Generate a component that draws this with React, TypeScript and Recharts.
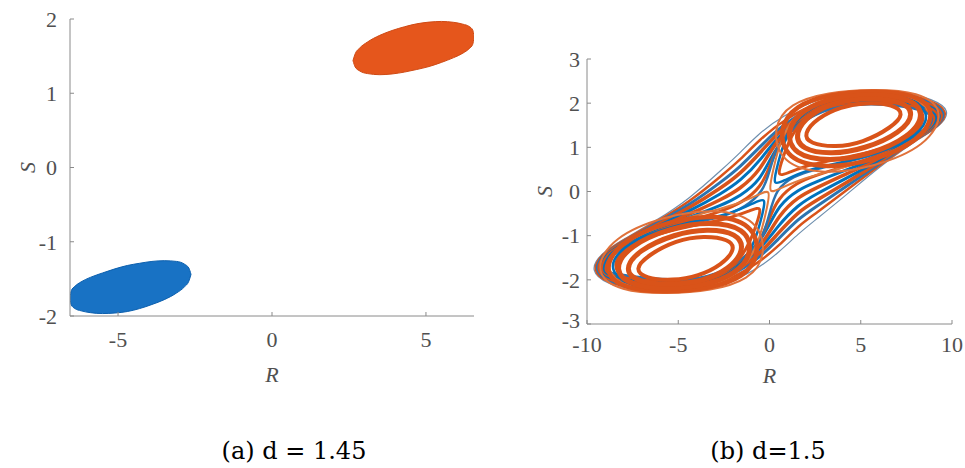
import React from "react";
import { ComposedChart, LineChart, Line, Area, XAxis, YAxis, Label } from "recharts";

const serif = "'Liberation Serif', 'Times New Roman', serif";
const boxGray = "#8a8a8a";
const tickGray = "#505050";
const blue = "#0072BD";
const orange = "#D95319";

// ---------- (a) d = 1.45 ----------
const blueR = [-6.56, -6.52, -6.4, -6.2, -5.9, -5.5, -5.1, -4.7, -4.3, -3.9, -3.5, -3.1, -2.85, -2.7, -2.63];
const blueLow = [-1.76, -1.85, -1.9, -1.93, -1.955, -1.967, -1.96, -1.94, -1.9, -1.845, -1.78, -1.69, -1.61, -1.53, -1.44];
const blueHigh = [-1.76, -1.66, -1.6, -1.54, -1.48, -1.42, -1.365, -1.32, -1.29, -1.265, -1.255, -1.265, -1.3, -1.355, -1.44];

const orangeR = [2.63, 2.7, 2.85, 3.1, 3.5, 3.9, 4.3, 4.7, 5.1, 5.5, 5.9, 6.2, 6.4, 6.52, 6.56];
const orangeLow = [1.44, 1.355, 1.3, 1.265, 1.25, 1.26, 1.285, 1.32, 1.36, 1.415, 1.48, 1.54, 1.6, 1.66, 1.76];
const orangeHigh = [1.44, 1.53, 1.61, 1.69, 1.78, 1.845, 1.895, 1.935, 1.958, 1.967, 1.955, 1.93, 1.9, 1.85, 1.76];

const ticksA_R = [-5, 0, 5];
const ticksA_S = [-2, -1, 0, 1, 2];

// ---------- (b) d = 1.5 ----------
type P = [number, number];
// orbits that wander over both scrolls, outermost first
const scroll0: P[] = [[-9.85,-1.8],[-9.3,-1.42],[-8.0,-1.08],[-6.2,-0.66],[-4.4,-0.17],[-2.6,0.5],[-1.6,0.88],[-0.7,1.27],[0.7,1.72],[2.9,2.14],[4.75,2.29],[7.5,2.24],[8.9,2.1],[9.95,1.84],[9.4,1.48],[7.8,1.1],[6.0,0.55],[4.2,-0.08],[2.5,-0.65],[1.6,-0.95],[0.5,-1.38],[-0.7,-1.78],[-2.9,-2.18],[-4.75,-2.29],[-7.5,-2.24],[-8.9,-2.1]];
const scroll1: P[] = [[-9.75,-1.8],[-9.2,-1.41],[-8.0,-1.11],[-6.2,-0.69],[-4.4,-0.24],[-2.6,0.365],[-1.6,0.72],[-0.6,1.15],[0.8,1.64],[2.9,2.08],[4.75,2.23],[7.5,2.2],[8.85,2.065],[9.84,1.82],[9.3,1.465],[7.8,1.13],[6.0,0.585],[4.2,0.02],[2.5,-0.51],[1.6,-0.77],[0.6,-1.2],[-0.8,-1.69],[-2.9,-2.13],[-4.75,-2.25],[-7.45,-2.2],[-8.85,-2.07]];
const scroll2: P[] = [[-9.65,-1.8],[-9.1,-1.4],[-8.0,-1.14],[-6.2,-0.725],[-4.4,-0.31],[-2.6,0.23],[-1.6,0.56],[-0.5,1.02],[0.8,1.56],[2.9,2.02],[4.75,2.18],[7.45,2.17],[8.8,2.03],[9.73,1.8],[9.2,1.45],[7.8,1.16],[6.0,0.62],[4.2,0.11],[2.5,-0.36],[1.6,-0.61],[0.5,-1.07],[-0.8,-1.61],[-2.9,-2.07],[-4.75,-2.2],[-7.4,-2.17],[-8.8,-2.04]];
const scroll3: P[] = [[-9.55,-1.8],[-9.0,-1.39],[-8.0,-1.16],[-6.2,-0.76],[-4.4,-0.38],[-2.6,0.095],[-1.6,0.4],[-0.45,0.9],[0.8,1.5],[2.9,1.98],[4.75,2.14],[7.45,2.13],[8.75,1.995],[9.62,1.78],[9.1,1.435],[7.8,1.18],[6.0,0.655],[4.2,0.2],[2.5,-0.22],[1.6,-0.45],[0.45,-0.95],[-0.8,-1.55],[-2.9,-2.03],[-4.75,-2.16],[-7.35,-2.13],[-8.75,-2.01]];
const scroll4: P[] = [[-9.45,-1.8],[-8.9,-1.38],[-8.0,-1.19],[-6.2,-0.79],[-4.4,-0.45],[-2.6,-0.04],[-1.6,0.24],[-0.45,0.72],[0.6,1.35],[2.9,1.95],[4.75,2.1],[7.4,2.1],[8.7,1.96],[9.51,1.76],[9.0,1.42],[7.8,1.21],[6.0,0.69],[4.2,0.3],[2.5,-0.07],[1.6,-0.29],[0.45,-0.77],[-0.6,-1.4],[-2.9,-2.0],[-4.75,-2.12],[-7.3,-2.1],[-8.7,-1.98]];
const scroll5: P[] = [[-9.35,-1.8],[-8.8,-1.37],[-8.0,-1.22],[-6.2,-0.82],[-4.4,-0.52],[-2.6,-0.175],[-1.6,0.06],[-0.5,0.48],[0.3,1.12],[1.5,1.58],[2.9,1.92],[4.75,2.07],[7.4,2.06],[8.65,1.925],[9.4,1.74],[8.9,1.405],[7.8,1.24],[6.0,0.725],[4.2,0.4],[2.5,0.07],[1.6,-0.11],[0.5,-0.53],[-0.3,-1.17],[-1.5,-1.63],[-2.9,-1.97],[-4.75,-2.09],[-7.25,-2.06],[-8.65,-1.95]];
const scroll6: P[] = [[-9.25,-1.81],[-8.7,-1.36],[-8.0,-1.245],[-6.2,-0.855],[-4.4,-0.59],[-2.6,-0.31],[-1.6,-0.1],[-0.5,0.25],[0.15,0.85],[1.2,1.45],[2.9,1.9],[4.75,2.04],[7.35,2.02],[8.6,1.89],[9.29,1.72],[8.8,1.39],[7.8,1.26],[6.0,0.76],[4.2,0.49],[2.5,0.21],[1.6,0.05],[0.5,-0.3],[-0.15,-0.9],[-1.2,-1.5],[-2.9,-1.95],[-4.75,-2.06],[-7.2,-2.02],[-8.6,-1.92]];
const scroll7: P[] = [[-9.15,-1.81],[-8.6,-1.35],[-8.0,-1.27],[-6.2,-0.89],[-4.4,-0.66],[-2.6,-0.445],[-1.5,-0.25],[-0.45,0.1],[0.05,0.6],[0.5,1.1],[1.5,1.5],[2.9,1.88],[4.75,2.02],[7.35,1.99],[8.55,1.855],[9.18,1.7],[8.7,1.375],[7.8,1.29],[6.0,0.795],[4.2,0.58],[2.5,0.36],[1.5,0.2],[0.45,-0.15],[-0.05,-0.65],[-0.5,-1.15],[-1.5,-1.55],[-2.9,-1.93],[-4.75,-2.04],[-7.15,-1.99],[-8.55,-1.89]];
const scroll8: P[] = [[-9.05,-1.82],[-8.5,-1.34],[-8.0,-1.3],[-6.2,-0.92],[-4.4,-0.73],[-2.6,-0.58],[-1.3,-0.35],[-0.35,0.0],[0.0,0.45],[0.35,1.0],[1.3,1.45],[2.9,1.85],[4.75,2.0],[7.3,1.95],[8.5,1.82],[9.07,1.68],[8.6,1.36],[7.8,1.32],[6.0,0.83],[4.2,0.68],[2.5,0.5],[1.3,0.35],[0.35,0.05],[0.0,-0.5],[-0.35,-1.05],[-1.3,-1.5],[-2.9,-1.9],[-4.75,-2.02],[-7.1,-1.95],[-8.5,-1.86]];

// orbits that leave one scroll, touch the saddle at the origin and come back
const lowHomo0: P[] = [[-9.0,-1.82],[-7.7,-2.22],[-5.4,-2.27],[-3.0,-2.14],[-1.3,-1.75],[-0.5,-1.05],[-0.1,-0.3],[0.05,0.05],[-0.5,-0.05],[-1.8,-0.3],[-4.2,-0.55],[-7.0,-0.92],[-8.6,-1.35]];
const lowHomo1: P[] = [[-8.8,-1.82],[-7.5,-2.18],[-5.4,-2.22],[-3.1,-2.08],[-1.5,-1.7],[-0.75,-1.1],[-0.35,-0.45],[-0.2,-0.15],[-0.7,-0.22],[-2.0,-0.5],[-4.3,-0.68],[-7.0,-1.0],[-8.4,-1.38]];
const lowHomo2: P[] = [[-8.6,-1.82],[-7.3,-2.14],[-5.3,-2.18],[-3.2,-2.03],[-1.7,-1.62],[-1.0,-1.1],[-0.6,-0.6],[-0.45,-0.35],[-0.9,-0.4],[-2.2,-0.62],[-4.4,-0.78],[-7.0,-1.05],[-8.3,-1.4]];
const upHomo0: P[] = [[9.0,1.82],[7.7,2.22],[5.4,2.27],[3.0,2.14],[1.3,1.75],[0.5,1.05],[0.1,0.3],[-0.05,-0.05],[0.5,0.05],[1.8,0.3],[4.2,0.55],[7.0,0.92],[8.6,1.35]];
const upHomo1: P[] = [[8.8,1.82],[7.5,2.18],[5.4,2.22],[3.1,2.08],[1.5,1.7],[0.75,1.1],[0.35,0.45],[0.2,0.15],[0.7,0.22],[2.0,0.5],[4.3,0.68],[7.0,1.0],[8.4,1.38]];
const upHomo2: P[] = [[8.6,1.82],[7.3,2.14],[5.3,2.18],[3.2,2.03],[1.7,1.62],[1.0,1.1],[0.6,0.6],[0.45,0.35],[0.9,0.4],[2.2,0.62],[4.4,0.78],[7.0,1.05],[8.3,1.4]];

// orbits that stay around one scroll, innermost first
const lowRing0: P[] = [[-7.4,-1.76],[-6.8,-1.97],[-5.3,-2.02],[-3.9,-1.92],[-2.6,-1.66],[-1.85,-1.3],[-2.2,-1.08],[-3.6,-1.0],[-5.1,-1.1],[-6.7,-1.45]];
const lowRing1: P[] = [[-8.0,-1.78],[-7.2,-2.06],[-5.4,-2.12],[-3.7,-2.04],[-2.2,-1.76],[-1.35,-1.32],[-1.75,-0.94],[-3.4,-0.84],[-5.2,-0.96],[-7.2,-1.33]];
const lowRing2: P[] = [[-8.6,-1.8],[-7.5,-2.15],[-5.5,-2.21],[-3.5,-2.13],[-1.8,-1.86],[-0.9,-1.38],[-1.3,-0.82],[-3.3,-0.68],[-5.4,-0.82],[-7.7,-1.22]];
const lowRing3: P[] = [[-9.2,-1.82],[-7.9,-2.22],[-5.6,-2.28],[-3.3,-2.2],[-1.4,-1.95],[-0.5,-1.42],[-0.9,-0.72],[-3.1,-0.52],[-5.6,-0.68],[-8.2,-1.12]];
const lowRing4: P[] = [[-9.7,-1.82],[-8.2,-2.27],[-5.6,-2.32],[-3.2,-2.25],[-1.1,-2.0],[-0.15,-1.45],[-0.6,-0.62],[-3.0,-0.38],[-5.7,-0.55],[-8.6,-1.02]];

const upRing0: P[] = [[7.4,1.76],[6.8,1.97],[5.3,2.02],[3.9,1.92],[2.6,1.66],[1.85,1.3],[2.2,1.08],[3.6,1.0],[5.1,1.1],[6.7,1.45]];
const upRing1: P[] = [[8.0,1.78],[7.2,2.06],[5.4,2.12],[3.7,2.04],[2.2,1.76],[1.35,1.32],[1.75,0.94],[3.4,0.84],[5.2,0.96],[7.2,1.33]];
const upRing2: P[] = [[8.6,1.8],[7.5,2.15],[5.5,2.21],[3.5,2.13],[1.8,1.86],[0.9,1.38],[1.3,0.82],[3.3,0.68],[5.4,0.82],[7.7,1.22]];
const upRing3: P[] = [[9.2,1.82],[7.9,2.22],[5.6,2.28],[3.3,2.2],[1.4,1.95],[0.5,1.42],[0.9,0.72],[3.1,0.52],[5.6,0.68],[8.2,1.12]];
const upRing4: P[] = [[9.7,1.82],[8.2,2.27],[5.6,2.32],[3.2,2.25],[1.1,2.0],[0.15,1.45],[0.6,0.62],[3.0,0.38],[5.7,0.55],[8.6,1.02]];

const ticksB_R = [-10, -5, 0, 5, 10];
const ticksB_S = [-3, -2, -1, 0, 1, 2, 3];

const toPoints = (p: P[]) => p.map(([x, y]) => ({ x, y }));

const strands = [
  { name: "s0", pts: scroll0, color: "#6f8fae", w: 1.2 },
  { name: "s1", pts: scroll1, color: orange, w: 2.5 },
  { name: "s2", pts: scroll2, color: "#2c74b0", w: 3 },
  { name: "s3", pts: scroll3, color: orange, w: 3.5 },
  { name: "s4", pts: scroll4, color: blue, w: 3 },
  { name: "s5", pts: scroll5, color: orange, w: 3.5 },
  { name: "s6", pts: scroll6, color: blue, w: 3 },
  { name: "s7", pts: scroll7, color: orange, w: 3 },
  { name: "s8", pts: scroll8, color: "#2c74b0", w: 2.5 },
  { name: "lh2", pts: lowHomo2, color: orange, w: 3 },
  { name: "uh2", pts: upHomo2, color: orange, w: 3 },
  { name: "lh1", pts: lowHomo1, color: blue, w: 2.5 },
  { name: "uh1", pts: upHomo1, color: blue, w: 2.5 },
  { name: "lh0", pts: lowHomo0, color: "#e07a3e", w: 2 },
  { name: "uh0", pts: upHomo0, color: "#e07a3e", w: 2 },
  { name: "lr4", pts: lowRing4, color: "#e0713a", w: 2 },
  { name: "ur4", pts: upRing4, color: "#e0713a", w: 2 },
  { name: "lr3", pts: lowRing3, color: orange, w: 4.5 },
  { name: "ur3", pts: upRing3, color: orange, w: 4.5 },
  { name: "lr2", pts: lowRing2, color: orange, w: 5 },
  { name: "ur2", pts: upRing2, color: orange, w: 5 },
  { name: "lr1", pts: lowRing1, color: orange, w: 5 },
  { name: "ur1", pts: upRing1, color: orange, w: 5 },
  { name: "lr0", pts: lowRing0, color: orange, w: 4 },
  { name: "ur0", pts: upRing0, color: orange, w: 4 },
];

const tickStyle = { fontFamily: serif, fontSize: 22, fill: tickGray };
const labelStyle = { fontFamily: serif, fontSize: 22, fill: tickGray, fontStyle: "italic" as const };

// y tick of panel (b): the lowest label sits a little higher so it clears the -10 below it
const YTickB = (props: any) => {
  const { x, y, payload } = props;
  const lift = payload.value === -3 ? -4 : 0;
  return (
    <text x={x} y={y + lift} dy="0.355em" textAnchor="end" fontFamily={serif} fontSize={22} fill={tickGray}>
      {payload.value}
    </text>
  );
};

const PanelA = () => {
  const rows = [
    ...blueR.map((r, i) => ({ r, blue: [blueLow[i], blueHigh[i]] })),
    ...orangeR.map((r, i) => ({ r, orange: [orangeLow[i], orangeHigh[i]] })),
  ];
  return (
    <ComposedChart width={480} height={400} data={rows} margin={{ top: 19, right: 6, left: 0, bottom: 0 }}>
      <XAxis dataKey="r" type="number" domain={[-6.56, 6.56]} ticks={ticksA_R} allowDataOverflow
        height={84} stroke={boxGray} tickSize={-4} tickMargin={19} tick={tickStyle}>
        <Label value="R" position="insideTop" offset={50} style={labelStyle} />
      </XAxis>
      <XAxis xAxisId="top" orientation="top" dataKey="r" type="number" domain={[-6.56, 6.56]} ticks={ticksA_R}
        allowDataOverflow height={0} stroke={boxGray} tickSize={-4} tickFormatter={() => ""} />
      <YAxis type="number" domain={[-2, 2]} ticks={ticksA_S} width={70} stroke={boxGray}
        tickSize={-4} tickMargin={17} tick={tickStyle}>
        <Label value="S" angle={-90} position="center" dx={-8} style={labelStyle} />
      </YAxis>
      <YAxis yAxisId="right" orientation="right" type="number" domain={[-2, 2]} ticks={ticksA_S} width={0}
        stroke={boxGray} tickSize={-4} tickFormatter={() => ""} />
      <Area dataKey="blue" type="monotone" fill="#1872c4" fillOpacity={1} stroke="#0b5fae" strokeWidth={1}
        isAnimationActive={false} connectNulls={false} dot={false} activeDot={false} />
      <Area dataKey="orange" type="monotone" fill="#e5561c" fillOpacity={1} stroke="#cf4a14" strokeWidth={1}
        isAnimationActive={false} connectNulls={false} dot={false} activeDot={false} />
    </ComposedChart>
  );
};

const PanelB = () => (
  <LineChart width={475} height={400} margin={{ top: 59, right: 13, left: 0, bottom: 0 }}>
    <XAxis dataKey="x" type="number" domain={[-10, 10]} ticks={ticksB_R} allowDataOverflow
      height={76} stroke={boxGray} tickSize={-4} tickMargin={16} tick={tickStyle}>
      <Label value="R" position="insideTop" offset={43} style={labelStyle} />
    </XAxis>
    <XAxis xAxisId="top" orientation="top" dataKey="x" type="number" domain={[-10, 10]} ticks={ticksB_R}
      allowDataOverflow height={0} stroke={boxGray} tickSize={-4} tickFormatter={() => ""} />
    <YAxis type="number" domain={[-3, 3]} ticks={ticksB_S} width={97} stroke={boxGray}
      tickSize={-4} tickMargin={11} tick={<YTickB />}>
      <Label value="S" angle={-90} position="center" dx={6} style={labelStyle} />
    </YAxis>
    <YAxis yAxisId="right" orientation="right" type="number" domain={[-3, 3]} ticks={ticksB_S} width={0}
      stroke={boxGray} tickSize={-4} tickFormatter={() => ""} />
    {strands.map((s) => (
      <Line key={s.name} data={toPoints(s.pts)} dataKey="y" type="basisClosed" stroke={s.color}
        strokeWidth={s.w} dot={false} activeDot={false} isAnimationActive={false} />
    ))}
  </LineChart>
);

const captionStyle: React.CSSProperties = {
  position: "absolute", top: 439, width: 400, textAlign: "center",
  fontFamily: "'DejaVu Serif', serif", fontSize: 24, lineHeight: "24px", color: "#000",
};

export default function App() {
  return (
    <div style={{ position: "absolute", left: 0, top: 0, width: 965, height: 468, background: "#fff", overflow: "hidden" }}>
      <div style={{ position: "absolute", left: 0, top: 0 }}><PanelA /></div>
      <div style={{ position: "absolute", left: 490, top: 0 }}><PanelB /></div>
      <div style={{ ...captionStyle, left: 94 }}>(a) d = 1.45</div>
      <div style={{ ...captionStyle, left: 568 }}>(b) d=1.5</div>
    </div>
  );
}
